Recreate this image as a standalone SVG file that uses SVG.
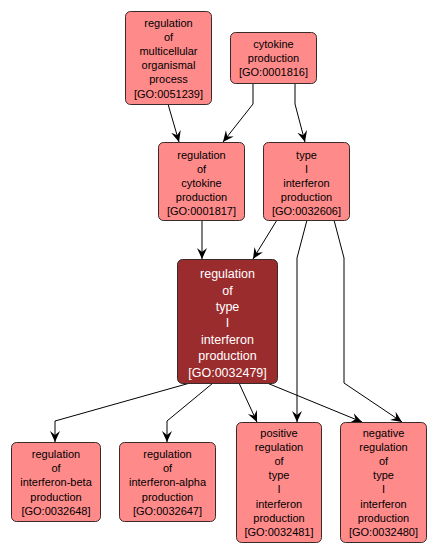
<svg xmlns="http://www.w3.org/2000/svg" width="436" height="556" viewBox="0 0 436 556">
<defs>
<style>
.n{fill:#ff8a8a;stroke:#3a2a2a;stroke-width:1}
.c{fill:#9b2c2e;stroke:#3a2a2a;stroke-width:1}
.t{font-family:"Liberation Sans",Arial,sans-serif;font-size:11px;fill:#000;text-anchor:middle}
.tc{font-family:"Liberation Sans",Arial,sans-serif;font-size:12.5px;fill:#fff;text-anchor:middle}
.e{fill:none;stroke:#000;stroke-width:1;marker-end:url(#a)}
</style>
<marker id="a" markerUnits="userSpaceOnUse" markerWidth="12" markerHeight="12" viewBox="0 0 12 12" refX="11" refY="6" orient="auto">
<path d="M0,1 L11,6 L0,11 L4,6 z" fill="#000"/>
</marker>
</defs>
<rect width="436" height="556" fill="#fff"/>
<g id="edges">
<path class="e" d="M168,104 L179,142"/>
<path class="e" d="M253,83 L253,104 L223,142"/>
<path class="e" d="M295,83 L295,104 L305,142"/>
<path class="e" d="M202,220 L202,259"/>
<path class="e" d="M277,220 L253,259"/>
<path class="e" d="M307,220 L297,258 L297,422"/>
<path class="e" d="M334,220 L344,258 L344,383 L402,422"/>
<path class="e" d="M190,383 L55,421 L55,442"/>
<path class="e" d="M213,383 L167,421 L167,442"/>
<path class="e" d="M239,383 L257,422"/>
<path class="e" d="M267,383 L362,422"/>
</g>
<g id="GO0051239">
<rect class="n" x="125.5" y="11.5" width="86" height="93" rx="5"/>
<text class="t" x="168.5" y="27">regulation</text>
<text class="t" x="168.5" y="41">of</text>
<text class="t" x="168.5" y="55">multicellular</text>
<text class="t" x="168.5" y="69">organismal</text>
<text class="t" x="168.5" y="83">process</text>
<text class="t" x="168.5" y="98">[GO:0051239]</text>
</g>
<g id="GO0001816">
<rect class="n" x="230.5" y="32.5" width="86" height="51" rx="5"/>
<text class="t" x="273.5" y="48">cytokine</text>
<text class="t" x="273.5" y="62">production</text>
<text class="t" x="273.5" y="76">[GO:0001816]</text>
</g>
<g id="GO0001817">
<rect class="n" x="158.5" y="142.5" width="86" height="78" rx="5"/>
<text class="t" x="201.5" y="159">regulation</text>
<text class="t" x="201.5" y="173">of</text>
<text class="t" x="201.5" y="187">cytokine</text>
<text class="t" x="201.5" y="201">production</text>
<text class="t" x="201.5" y="215">[GO:0001817]</text>
</g>
<g id="GO0032606">
<rect class="n" x="263.5" y="142.5" width="86" height="78" rx="5"/>
<text class="t" x="306.5" y="159">type</text>
<text class="t" x="306.5" y="173">I</text>
<text class="t" x="306.5" y="187">interferon</text>
<text class="t" x="306.5" y="201">production</text>
<text class="t" x="306.5" y="215">[GO:0032606]</text>
</g>
<g id="GO0032479">
<rect class="c" x="177.5" y="259.5" width="100" height="124" rx="5"/>
<text class="tc" x="227.5" y="278">regulation</text>
<text class="tc" x="227.5" y="295">of</text>
<text class="tc" x="227.5" y="311">type</text>
<text class="tc" x="227.5" y="327">I</text>
<text class="tc" x="227.5" y="344">interferon</text>
<text class="tc" x="227.5" y="360">production</text>
<text class="tc" x="227.5" y="377">[GO:0032479]</text>
</g>
<g id="GO0032648">
<rect class="n" x="11.5" y="442.5" width="89" height="79" rx="5"/>
<text class="t" x="56" y="458">regulation</text>
<text class="t" x="56" y="472">of</text>
<text class="t" x="56" y="486">interferon-beta</text>
<text class="t" x="56" y="501">production</text>
<text class="t" x="56" y="515">[GO:0032648]</text>
</g>
<g id="GO0032647">
<rect class="n" x="119.5" y="442.5" width="96" height="79" rx="5"/>
<text class="t" x="167.5" y="458">regulation</text>
<text class="t" x="167.5" y="472">of</text>
<text class="t" x="167.5" y="486">interferon-alpha</text>
<text class="t" x="167.5" y="501">production</text>
<text class="t" x="167.5" y="515">[GO:0032647]</text>
</g>
<g id="GO0032481">
<rect class="n" x="236.5" y="422.5" width="85" height="120" rx="5"/>
<text class="t" x="279" y="437">positive</text>
<text class="t" x="279" y="451">regulation</text>
<text class="t" x="279" y="465">of</text>
<text class="t" x="279" y="479">type</text>
<text class="t" x="279" y="493">I</text>
<text class="t" x="279" y="508">interferon</text>
<text class="t" x="279" y="522">production</text>
<text class="t" x="279" y="536">[GO:0032481]</text>
</g>
<g id="GO0032480">
<rect class="n" x="340.5" y="422.5" width="86" height="120" rx="5"/>
<text class="t" x="383.5" y="437">negative</text>
<text class="t" x="383.5" y="451">regulation</text>
<text class="t" x="383.5" y="465">of</text>
<text class="t" x="383.5" y="479">type</text>
<text class="t" x="383.5" y="493">I</text>
<text class="t" x="383.5" y="508">interferon</text>
<text class="t" x="383.5" y="522">production</text>
<text class="t" x="383.5" y="536">[GO:0032480]</text>
</g>
</svg>
